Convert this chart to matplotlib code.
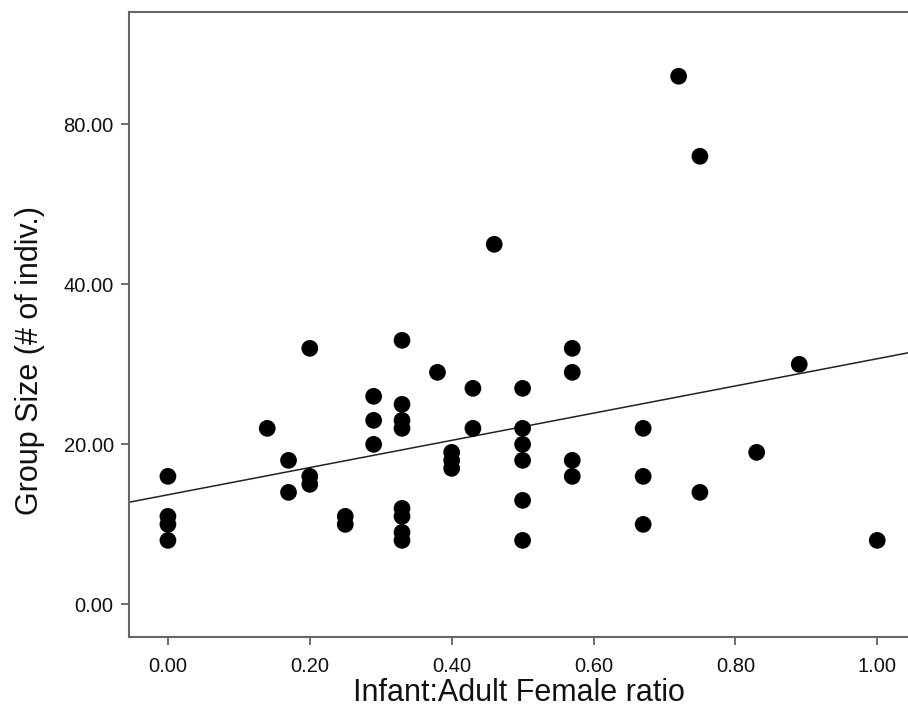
#!/usr/bin/env python3
# -*- coding: utf-8 -*-
# Group size vs infant:adult female ratio, scatter with linear fit
import numpy as np
import matplotlib
matplotlib.use('Agg')
import matplotlib.pyplot as plt

# datos
ratio = [0.00, 0.00, 0.00, 0.00,
         0.14,
         0.17, 0.17,
         0.20, 0.20, 0.20,
         0.25, 0.25,
         0.29, 0.29, 0.29,
         0.33, 0.33, 0.33, 0.33, 0.33, 0.33, 0.33, 0.33,
         0.38,
         0.40, 0.40, 0.40,
         0.43, 0.43,
         0.46,
         0.50, 0.50, 0.50, 0.50, 0.50, 0.50,
         0.57, 0.57, 0.57, 0.57,
         0.67, 0.67, 0.67,
         0.72,
         0.75, 0.75,
         0.83,
         0.89,
         1.00]
group_size = [16, 11, 10, 8,
              22,
              18, 14,
              32, 16, 15,
              11, 10,
              26, 23, 20,
              33, 25, 23, 22, 12, 11, 9, 8,
              29,
              19, 18, 17,
              27, 22,
              45,
              27, 22, 20, 18, 13, 8,
              32, 29, 18, 16,
              22, 16, 10,
              66,
              56, 14,
              19,
              30,
              8]

# recta de ajuste tal como aparece en la figura
fit_intercept = 13.7
fit_slope = 17.0

xticks = [0.0, 0.2, 0.4, 0.6, 0.8, 1.0]
xticklabels = ['0.00', '0.20', '0.40', '0.60', '0.80', '1.00']
yticks = [0, 20, 40, 60]
yticklabels = ['0.00', '20.00', '40.00', '80.00']

plt.rcParams['font.family'] = ['Liberation Sans', 'DejaVu Sans']

fig = plt.figure(figsize=(9.08, 7.2), dpi=100)
ax = fig.add_axes([0.142, 0.115, 0.8585, 0.868])

x = np.array(ratio)
y = np.array(group_size)
ax.scatter(x, y, s=145, color='black', edgecolors='none', zorder=3)

xl = np.array([-0.1, 1.1])
ax.plot(xl, fit_intercept + fit_slope * xl, color='#222222', linewidth=1.1, zorder=2)

ax.set_xlim(-0.055, 1.044)
ax.set_ylim(-4.1, 74)
ax.set_xticks(xticks)
ax.set_xticklabels(xticklabels)
ax.set_yticks(yticks)
ax.set_yticklabels(yticklabels)

for s in ['left', 'bottom', 'top']:
    ax.spines[s].set_color('#666666')
    ax.spines[s].set_linewidth(1.5)
ax.spines['right'].set_visible(False)

ax.tick_params(axis='both', direction='out', length=6, width=1.2, color='#555555',
               labelsize=14.5, labelcolor='#111111')
ax.tick_params(axis='y', pad=5)
ax.tick_params(axis='x', pad=8)

ax.set_xlabel('Infant:Adult Female ratio', fontsize=22, color='#111111', labelpad=2)
ax.set_ylabel('Group Size (# of indiv.)', fontsize=22, color='#111111')
ax.yaxis.set_label_coords(-0.108, 0.443)

fig.savefig('out.png', dpi=100)
